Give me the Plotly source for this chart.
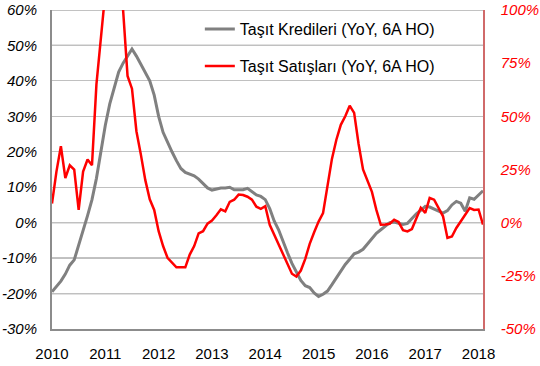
import plotly.graph_objects as go

# Monthly data, Jan 2010 - Feb 2018 (index 0..97)
months = list(range(98))
year_ticks = [0, 12, 24, 36, 48, 60, 72, 84, 96]
year_labels = ["2010", "2011", "2012", "2013", "2014", "2015", "2016", "2017", "2018"]

# Taşıt Kredileri (YoY, 6A HO) - left axis, %
kredi = [-19.5, -18, -16.5, -14.5, -12, -10.5, -6.5, -2, 2, 6.5,
         12.5, 20, 27.5, 33.5, 37.7, 42.5, 45, 47, 49, 47,
         44.8, 42.5, 40, 36, 30, 25.5, 22.5, 20, 17.5, 15.3,
         14.2, 13.8, 13.2, 12.3, 11, 9.8, 9.2, 9.5, 9.8, 9.8,
         10, 9.3, 9.3, 9.3, 9.7, 8.8, 7.8, 7.4, 6.5, 4,
         0.5, -2, -5.5, -8.5, -11.5, -14, -16.3, -17.8, -18.3, -19.8,
         -20.8, -20.2, -19.3, -17.5, -15.5, -13.5, -11.8, -10.3, -8.8, -8.3,
         -7.5, -6, -4.5, -3, -2, -1, 0, 0.2, -0.2, -0.5,
         -0.2, 1.2, 2.5, 3.5, 4.6, 4.4, 3.8, 3.2, 2.7, 3.4,
         5, 6, 5.5, 3.2, 7, 6.6, 7.7, 9]

# Taşıt Satışları (YoY, 6A HO) - right axis, %
satis = [9, 24, 36, 21, 27, 25, 6, 24, 29.7, 27,
         65, 88, 110, 130, 135, 125, 100, 69, 63, 43,
         32, 20, 11, 6, -4, -11, -16.5, -19, -21, -21,
         -21, -15, -11, -5, -4, -0.5, 1, 3.5, 6.3, 5.3,
         9.8, 10.8, 13.2, 13, 12.2, 10.8, 7.5, 6.5, 7.7, -1,
         -5.5, -10, -14.5, -19, -24, -25.3, -22.5, -17, -10, -4.5,
         0.5, 4.5, 17, 30, 39, 46, 50, 55, 51.6, 37,
         25, 20, 14.5, 6, -1, -0.9, -0.5, 1.4, 0.3, -3.5,
         -4.1, -3, 2, 7, 4.6, 11.6, 10.8, 7, 3, -7.2,
         -6.5, -2.5, 0.5, 3.5, 6.9, 6, 6.2, -0.9]

left_ticks = [-30, -20, -10, 0, 10, 20, 30, 40, 50, 60]
right_ticks = [-50, -25, 0, 25, 50, 75, 100]
dark_grid = [60, 50, 0, -10, -20]

FONT = "Liberation Sans, Arial, sans-serif"

fig = go.Figure()
fig.add_trace(go.Scatter(x=months, y=kredi, mode="lines",
                         name="Taşıt Kredileri (YoY, 6A HO)",
                         line=dict(color="#808080", width=3),
                         legend="legend"))
fig.add_trace(go.Scatter(x=months, y=satis, mode="lines",
                         name="Taşıt Satışları (YoY, 6A HO)",
                         line=dict(color="#FF0000", width=2.5),
                         yaxis="y2", legend="legend2"))

shapes = []
for v in dark_grid:
    shapes.append(dict(type="line", xref="paper", x0=0, x1=1, yref="y", y0=v, y1=v,
                       line=dict(color="#868686", width=1.2), layer="below"))

fig.update_layout(
    width=540, height=366,
    margin=dict(l=52, r=57, t=10, b=37, autoexpand=False),
    paper_bgcolor="white", plot_bgcolor="white",
    font=dict(family=FONT, size=15, color="black"),
    shapes=shapes,
    xaxis=dict(range=[0, 97], tickvals=year_ticks, ticktext=year_labels,
               showgrid=False, zeroline=False, showline=True,
               linecolor="#8C8C8C", linewidth=2, ticks="", automargin=False,
               tickfont=dict(family=FONT, size=15, color="black"),
               ticklabelstandoff=10),
    yaxis=dict(range=[-30, 60], tickvals=left_ticks,
               ticktext=[f"{v}%" for v in left_ticks],
               showgrid=True, gridcolor="#C0C0C0", gridwidth=1, automargin=False,
               zeroline=False, showline=True, linecolor="#8C8C8C", linewidth=2,
               ticks="", tickfont=dict(family=FONT, size=15, color="black", style="italic"),
               ticklabelstandoff=10),
    yaxis2=dict(range=[-50, 100], tickvals=right_ticks,
                ticktext=[f"{v}%" for v in right_ticks], automargin=False,
                overlaying="y", side="right", showgrid=False, zeroline=False,
                showline=True, linecolor="#D06A6A", linewidth=1.5, ticks="",
                tickfont=dict(family=FONT, size=15, color="#FF0000", style="italic"),
                ticklabelstandoff=13),
    legend=dict(x=0.343, y=0.94, xanchor="left", yanchor="middle",
                bgcolor="rgba(0,0,0,0)", borderwidth=0,
                font=dict(family=FONT, size=16, color="black")),
    legend2=dict(x=0.343, y=0.824, xanchor="left", yanchor="middle",
                 bgcolor="rgba(0,0,0,0)", borderwidth=0,
                 font=dict(family=FONT, size=16, color="black")),
    showlegend=True,
)

fig.write_html("out.html", config={"displayModeBar": False},
               post_script="document.body.style.margin='0';")
